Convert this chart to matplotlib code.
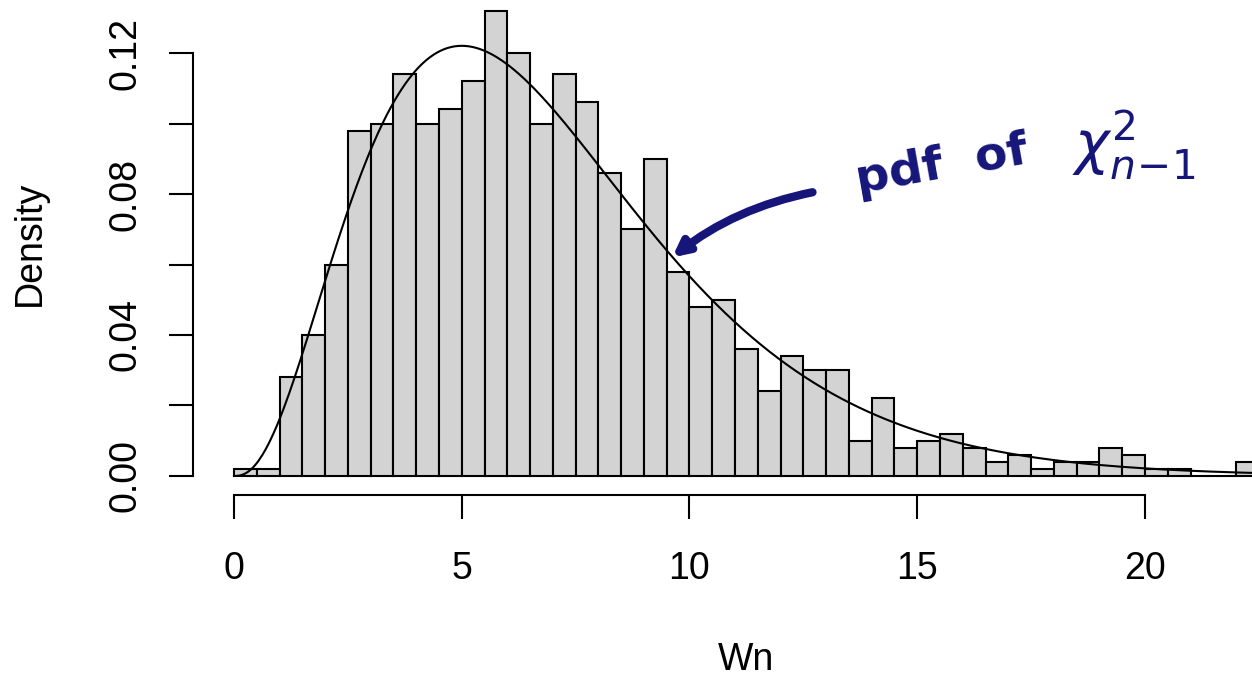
import math
import numpy as np
import matplotlib
matplotlib.use("Agg")
import matplotlib.pyplot as plt

# ---- data ----
bin_width = 0.5
bin_starts = [i * bin_width for i in range(45)]  # 0.0 ... 22.0
density = [0.002, 0.002, 0.028, 0.040, 0.060, 0.098, 0.100, 0.114, 0.100, 0.104,
           0.112, 0.132, 0.120, 0.100, 0.114, 0.106, 0.086, 0.070, 0.090, 0.058,
           0.048, 0.050, 0.036, 0.024, 0.034, 0.030, 0.030, 0.010, 0.022, 0.008,
           0.010, 0.012, 0.008, 0.004, 0.006, 0.002, 0.004, 0.004, 0.008, 0.006,
           0.002, 0.002, 0.000, 0.000, 0.004]
df = 7
x_ticks = [0, 5, 10, 15, 20]
y_ticks = [0.00, 0.04, 0.08, 0.12]
y_minor = [0.02, 0.06, 0.10]
x_label = "Wn"
y_label = "Density"

plt.rcParams['font.family'] = ['Liberation Sans', 'DejaVu Sans']

W, H = 1252, 676
fig = plt.figure(figsize=(W / 100, H / 100), dpi=100)

# R-style range extension of 4%
xmin, xmax = bin_starts[0], bin_starts[-1] + bin_width
xr = xmax - xmin
ymax = max(density)
xlim = (xmin - 0.04 * xr, xmax + 0.04 * xr)
ylim = (-0.04 * ymax, ymax * 1.04)

# plot-region position in pixels
left_px, bottom_px = 193, 494.6
ppu_x = 45.55
ppu_y = 3524.8
width_px = (xlim[1] - xlim[0]) * ppu_x
height_px = (ylim[1] - ylim[0]) * ppu_y
ax = fig.add_axes([left_px / W, (H - bottom_px) / H, width_px / W, height_px / H])
ax.set_xlim(*xlim)
ax.set_ylim(*ylim)

lw = 1.5
ax.bar(bin_starts, density, width=bin_width, align='edge', color='#d3d3d3',
       edgecolor='black', linewidth=lw, zorder=2)

xs = np.linspace(0, xlim[1], 600)
k = df / 2.0
pdf = xs ** (k - 1) * np.exp(-xs / 2) / (2 ** k * math.gamma(k))
ax.plot(xs, pdf, color='black', lw=lw, zorder=3)

for s in ['top', 'right']:
    ax.spines[s].set_visible(False)
ax.spines['left'].set_bounds(y_ticks[0], y_ticks[-1])
ax.spines['bottom'].set_bounds(x_ticks[0], x_ticks[-1])
for s in ['left', 'bottom']:
    ax.spines[s].set_linewidth(lw)

all_y = sorted(y_ticks + y_minor)
ax.set_yticks(all_y)
ax.set_yticklabels(["%.2f" % v if v in y_ticks else "" for v in all_y],
                   rotation=90, va='center')
ax.set_xticks(x_ticks)
ax.set_xticklabels([str(v) for v in x_ticks])
ax.tick_params(axis='both', direction='out', length=17.3, width=lw,
               labelsize=27)
ax.tick_params(axis='x', pad=23.5)
ax.tick_params(axis='y', pad=18.5)

fig.text(746 / W, 1 - 660 / H, x_label, ha='center', va='center', fontsize=27)
fig.text(30 / W, 1 - 243 / H, y_label, ha='center', va='center', fontsize=27,
         rotation=90)

# handwritten-style annotation
navy = '#16167a'
ax.annotate("", xy=(9.62, 0.0620), xytext=(12.7, 0.0805),
            arrowprops=dict(arrowstyle='-|>,head_length=0.9,head_width=0.45',
                            connectionstyle='arc3,rad=0.12', lw=6,
                            color=navy, shrinkA=0, shrinkB=0), zorder=5)
ax.text(15.55, 0.0880, "pdf  of", color=navy, fontsize=34, fontweight='bold',
        ha='center', va='center', rotation=10, family='DejaVu Sans')
ax.text(19.75, 0.0940, r"$\chi^2_{n\!-\!1}$", color=navy, fontsize=42,
        ha='center', va='center')

fig.savefig("out.png", dpi=100)
